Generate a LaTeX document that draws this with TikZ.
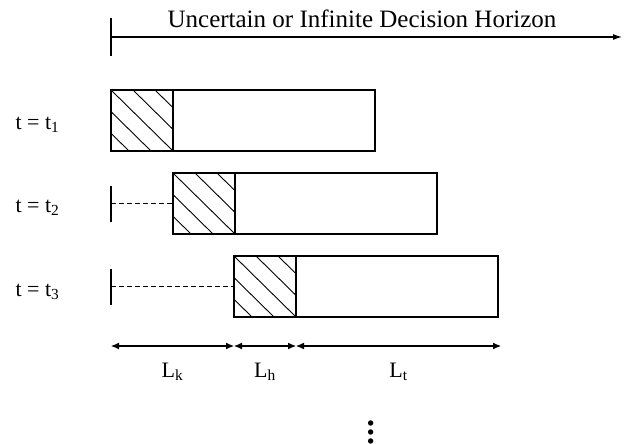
\documentclass[tikz,border=0pt]{standalone}
\usepackage{fontspec}
\setmainfont{Liberation Serif}
\usetikzlibrary{positioning,arrows.meta}

\begin{document}
\begin{tikzpicture}[
  x=1pt, y=-1pt,
  line width=1.1pt,
  font=\fontsize{22}{26}\selectfont,
  hatchbox/.style={rectangle, draw, minimum width=62pt, minimum height=61pt,
                   inner sep=0pt, outer sep=0pt},
  plainbox/.style={rectangle, draw, minimum width=202pt, minimum height=61pt,
                   inner sep=0pt, outer sep=0pt},
  rowlbl/.style={anchor=base west, inner sep=0pt},
  lag/.style={dash pattern=on 5pt off 3pt},
  dimarr/.style={{Latex[length=8pt,width=7pt]}-{Latex[length=8pt,width=7pt]}},
  horarr/.style={-{Latex[length=9pt,width=6pt]}},
  dimlbl/.style={midway, yshift=-26pt}
]
\useasboundingbox (0,0) rectangle (629,444);

% decision horizon
\coordinate (o) at (111,37);
\coordinate (hend) at (622,37);
\draw[horarr] (o) -- (hend);
\draw (o) ++(0,-19) -- ++(0,38);
\node[anchor=base, font=\fontsize{25}{30}\selectfont] (title) at (362,28)
  {Uncertain or Infinite Decision Horizon};

% rolling windows
\node[hatchbox, anchor=north west] (h1) at (111,90) {};
\node[plainbox, right=0pt of h1] (b1) {};
\node[hatchbox, anchor=north west] (h2) at (173,173) {};
\node[plainbox, right=0pt of h2] (b2) {};
\node[hatchbox, anchor=north west] (h3) at (234,256) {};
\node[plainbox, right=0pt of h3] (b3) {};

\foreach \n in {1,2,3}{
  \begin{scope}
    \clip (h\n.north west) rectangle (h\n.south east);
    \foreach \d in {-44,-22,0,22,44}
      \draw[line width=0.9pt] ([xshift=\d pt]h\n.north west) -- ++(62,61);
  \end{scope}
}

\node[rowlbl] (l1) at (15,129) {t = t\textsubscript{1}};
\node[rowlbl] (l2) at (15,212) {t = t\textsubscript{2}};
\node[rowlbl] (l3) at (15,296) {t = t\textsubscript{3}};

% elapsed time
\coordinate (s2) at (o |- h2.west);
\coordinate (s3) at (o |- h3.west);
\draw (s2) ++(0,-18) -- ++(0,36);
\draw (s3) ++(0,-18) -- ++(0,36);
\draw[lag] (s2) -- (h2.west);
\draw[lag] (s3) -- (h3.west);

% lengths
\coordinate (d0) at (111,346);
\coordinate (d1) at (h3.south west |- d0);
\coordinate (d2) at (h3.south east |- d0);
\coordinate (d3) at (501,346);
\draw[dimarr] (d0) -- node[dimlbl] (lk) {L\textsubscript{k}} (d1);
\draw[dimarr] (d1) -- node[dimlbl] (lh) {L\textsubscript{h}} (d2);
\draw[dimarr] (d2) -- node[dimlbl] (lt) {L\textsubscript{t}} (d3);

\node[scale=2.25, font=\fontsize{20}{24}\selectfont] (more) at (371,426) {$\vdots$};
\end{tikzpicture}
\end{document}
